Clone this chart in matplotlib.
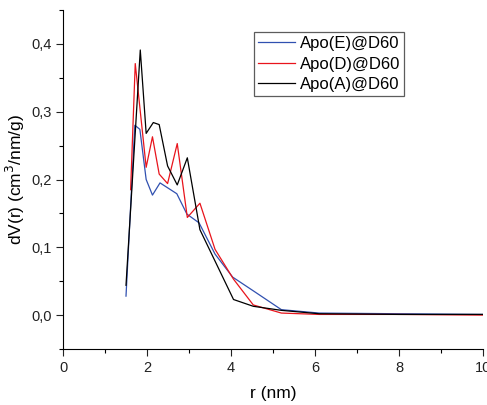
import matplotlib
matplotlib.use("Agg")
import matplotlib.pyplot as plt
from matplotlib.ticker import MultipleLocator, FuncFormatter

plt.rcParams['font.family'] = ['Liberation Sans', 'DejaVu Sans']

# Apo(E)@D60
r_E = [1.50, 1.71, 1.83, 1.98, 2.13, 2.31, 2.71, 2.95, 3.24, 3.62, 4.04, 4.55, 5.20, 6.10, 8.00, 10.0]
v_E = [0.028, 0.280, 0.274, 0.200, 0.177, 0.195, 0.179, 0.149, 0.136, 0.090, 0.056, 0.035, 0.008, 0.003, 0.002, 0.001]
# Apo(D)@D60
r_D = [1.61, 1.72, 1.98, 2.13, 2.29, 2.49, 2.72, 2.96, 3.26, 3.62, 4.06, 4.53, 5.20, 6.10, 8.00, 10.0]
v_D = [0.185, 0.371, 0.218, 0.263, 0.208, 0.194, 0.253, 0.144, 0.165, 0.097, 0.053, 0.015, 0.003, 0.001, 0.001, 0.000]
# Apo(A)@D60
r_A = [1.50, 1.84, 1.98, 2.15, 2.29, 2.49, 2.72, 2.96, 3.26, 4.06, 4.53, 5.20, 6.10, 8.00, 10.0]
v_A = [0.044, 0.391, 0.268, 0.284, 0.281, 0.220, 0.192, 0.232, 0.126, 0.023, 0.013, 0.007, 0.002, 0.001, 0.001]

labels = ['Apo(E)@D60', 'Apo(D)@D60', 'Apo(A)@D60']
colors = ['#3050b0', '#e8141c', '#000000']

fig = plt.figure(figsize=(4.87, 4.05), dpi=100)
ax = fig.add_axes([63/487, 1-349/405, 420/487, 339/405])

ax.plot(r_E, v_E, color=colors[0], lw=0.9, label=labels[0])
ax.plot(r_D, v_D, color=colors[1], lw=0.9, label=labels[1])
ax.plot(r_A, v_A, color=colors[2], lw=0.9, label=labels[2])

ax.set_xlim(0, 10)
ax.set_ylim(-0.05, 0.45)
ax.spines['top'].set_visible(False)
ax.spines['right'].set_visible(False)
ax.xaxis.set_major_locator(MultipleLocator(2))
ax.xaxis.set_minor_locator(MultipleLocator(1))
ax.yaxis.set_major_locator(MultipleLocator(0.1))
ax.yaxis.set_minor_locator(MultipleLocator(0.05))
ax.yaxis.set_major_formatter(FuncFormatter(lambda v, p: f"{v:.1f}".replace('.', ',').replace('-0,0', '0,0')))
ax.tick_params(which='major', direction='out', length=5, width=0.8, labelsize=10.5, colors='#222222')
ax.tick_params(which='minor', direction='out', length=3, width=0.8)
ax.tick_params(axis='y', pad=3)
ax.set_ylim(-0.05, 0.45)

ax.set_xlabel('r (nm)', fontsize=12.5, labelpad=8)
ax.set_ylabel('dV(r) (cm$^3$/nm/g)', fontsize=12.5, labelpad=3)

leg = ax.legend(loc='upper left', bbox_to_anchor=(254/487, 1-32/405), bbox_transform=fig.transFigure,
                fontsize=12, frameon=True, fancybox=False, borderpad=0.25, labelspacing=0.32,
                handlelength=2.2, handletextpad=0.3, borderaxespad=0)
leg.get_frame().set_edgecolor('#333333')
leg.get_frame().set_linewidth(0.9)

fig.savefig('out.png', dpi=100)
